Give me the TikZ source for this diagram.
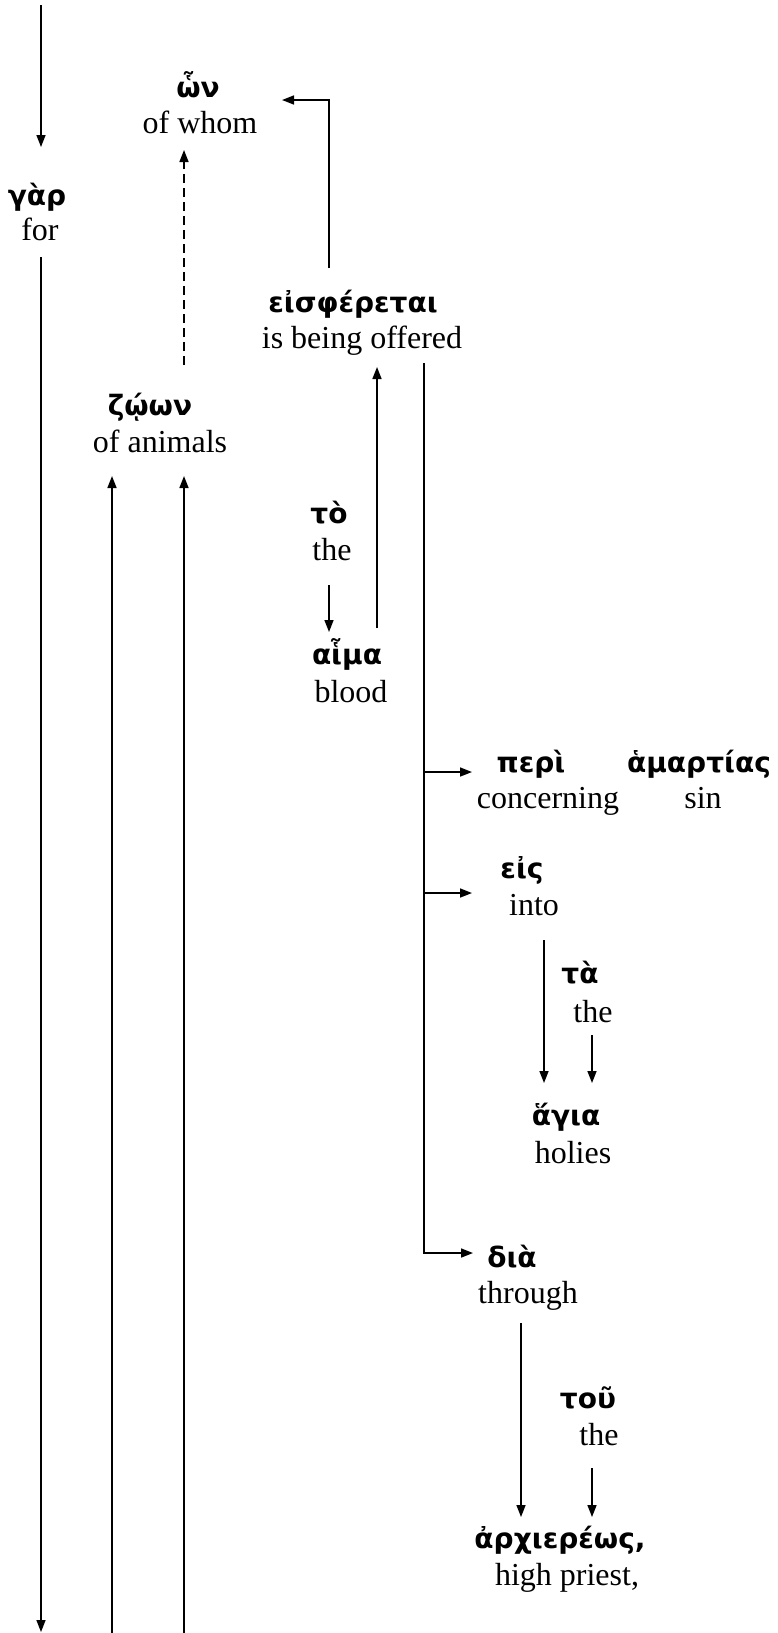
\documentclass[tikz,border=0pt]{standalone}
\usepackage{fontspec}
\setmainfont{Liberation Serif}
\newfontfamily\grk{DejaVu Sans}[BoldFont={DejaVu Sans Bold}]
\usetikzlibrary{arrows.meta}
\tikzset{
  gk/.style={anchor=base, inner sep=0pt, font=\grk\bfseries\fontsize{28}{32}\selectfont},
  en/.style={anchor=base, inner sep=0pt, font=\fontsize{32}{36}\selectfont},
  conn/.style={line width=1.6pt, -{Triangle[length=12pt,width=9pt]}},
  dashconn/.style={conn, dash pattern=on 9pt off 5pt}
}
\begin{document}
\begin{tikzpicture}[x=1pt,y=-1pt]
\useasboundingbox (0,0) rectangle (777,1633);
% words
\node[gk] (g1) at (37,205) {γὰρ};
\node[en] (e1) at (40,240) {for};
\node[gk] (g2) at (198,97) {ὧν};
\node[en] (e2) at (200,133) {of whom};
\node[gk] (g3) at (353,312) {εἰσφέρεται};
\node[en] (e3) at (362,348) {is being offered};
\node[gk] (g4) at (150,415) {ζῴων};
\node[en] (e4) at (160,452) {of animals};
\node[gk] (g5) at (329,523) {τὸ};
\node[en] (e5) at (332,560) {the};
\node[gk] (g6) at (347,664) {αἷμα};
\node[en] (e6) at (351,702) {blood};
\node[gk] (g7) at (531,772) {περὶ};
\node[en] (e7) at (548,808) {concerning};
\node[gk] (g8) at (699,772) {ἁμαρτίας};
\node[en] (e8) at (703,808) {sin};
\node[gk] (g9) at (522,878) {εἰς};
\node[en] (e9) at (534,915) {into};
\node[gk] (g10) at (580,983) {τὰ};
\node[en] (e10) at (593,1022) {the};
\node[gk] (g11) at (566,1125) {ἅγια};
\node[en] (e11) at (573,1163) {holies};
\node[gk] (g12) at (512,1267) {διὰ};
\node[en] (e12) at (528,1303) {through};
\node[gk] (g13) at (588,1408) {τοῦ};
\node[en] (e13) at (599,1445) {the};
\node[gk] (g14) at (560,1548) {ἀρχιερέως,};
\node[en] (e14) at (567,1585) {high priest,};
% connector end points
\coordinate (top) at (41,5);
\coordinate (garIn) at (41,147);
\coordinate (garOut) at (41,257);
\coordinate (garEnd) at (41,1632);
\coordinate (zA0) at (112,1633);
\coordinate (zA1) at (112,476);
\coordinate (zB0) at (184,1633);
\coordinate (zB1) at (184,476);
\coordinate (zOut) at (184,365);
\coordinate (hnIn) at (184,150);
\coordinate (eisOut) at (329,268);
\coordinate (eisCorner) at (329,100);
\coordinate (hnRight) at (282,100);
\coordinate (haimaOut) at (377,628);
\coordinate (eisIn) at (377,367);
\coordinate (trunkTop) at (424,363);
\coordinate (trunkBot) at (424,1253);
\coordinate (periIn) at (472,772);
\coordinate (trunkP) at (424,772);
\coordinate (eisbIn) at (472,893);
\coordinate (trunkE) at (424,893);
\coordinate (diaIn) at (473,1253);
\coordinate (toOut) at (329,585);
\coordinate (haimaIn) at (329,632);
\coordinate (eisbOut) at (544,940);
\coordinate (hagiaIn1) at (544,1083);
\coordinate (taOut) at (592,1035);
\coordinate (hagiaIn2) at (592,1083);
\coordinate (diaOut) at (521,1323);
\coordinate (archIn1) at (521,1517);
\coordinate (touOut) at (592,1468);
\coordinate (archIn2) at (592,1517);
% connectors
\draw[conn] (top) -- (garIn);
\draw[conn] (garOut) -- (garEnd);
\draw[conn] (zA0) -- (zA1);
\draw[conn] (zB0) -- (zB1);
\draw[dashconn] (zOut) -- (hnIn);
\draw[conn] (eisOut) -- (eisCorner) -- (hnRight);
\draw[conn] (haimaOut) -- (eisIn);
\draw[conn] (trunkTop) -- (trunkBot) -- (diaIn);
\draw[conn] (trunkP) -- (periIn);
\draw[conn] (trunkE) -- (eisbIn);
\draw[conn] (toOut) -- (haimaIn);
\draw[conn] (eisbOut) -- (hagiaIn1);
\draw[conn] (taOut) -- (hagiaIn2);
\draw[conn] (diaOut) -- (archIn1);
\draw[conn] (touOut) -- (archIn2);
\end{tikzpicture}
\end{document}
